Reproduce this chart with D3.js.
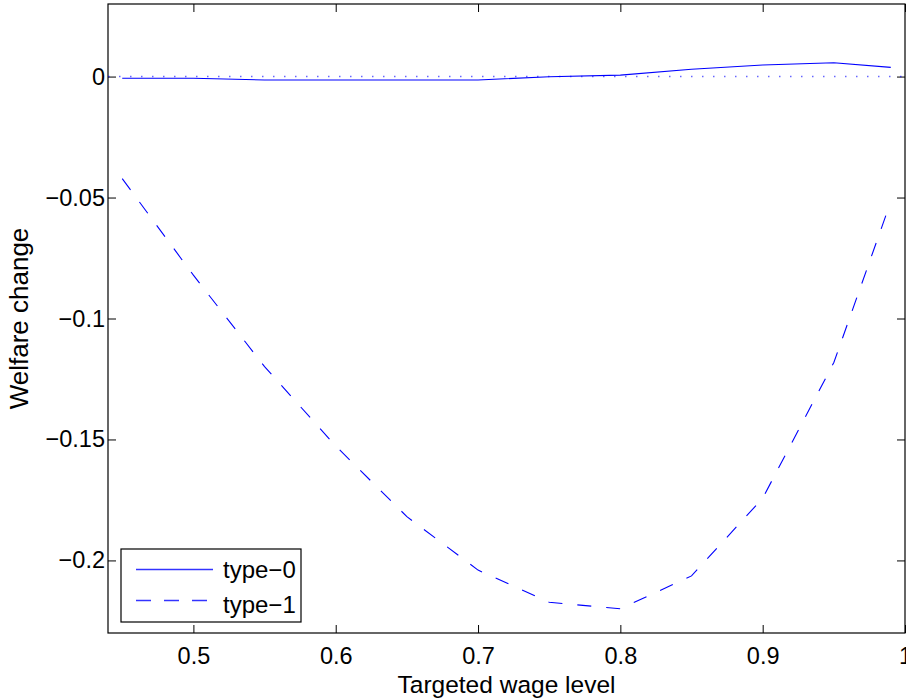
<!DOCTYPE html>
<html>
<head>
<meta charset="utf-8">
<script src="https://cdn.jsdelivr.net/npm/d3@7"></script>
<style>
  body { margin: 0; background: #fff; }
  text { font-family: "Liberation Sans", Arial, Helvetica, sans-serif; fill: #000; }
</style>
</head>
<body>
<div id="my_dataviz"></div>
<script>
// data
var wage = [0.45, 0.5, 0.55, 0.6, 0.65, 0.7, 0.75, 0.8, 0.85, 0.9, 0.95, 0.99];
var type0 = [-0.0007, -0.0007, -0.0014, -0.0014, -0.0014, -0.0014, -0.0001, 0.0006, 0.0030, 0.0048, 0.0057, 0.0038];
var type1 = [-0.0422, -0.0821, -0.1199, -0.1527, -0.1819, -0.2040, -0.2173, -0.2200, -0.2064, -0.1743, -0.1182, -0.0517];
var xTicks = [0.5, 0.6, 0.7, 0.8, 0.9, 1];
var yTicks = [-0.2, -0.15, -0.1, -0.05, 0];
var seriesNames = ["type\u22120", "type\u22121"];

// set the dimensions and margins of the graph
var margin = {top: 4, right: 1, bottom: 67, left: 108},
    width = 906 - margin.left - margin.right,
    height = 700 - margin.top - margin.bottom;

var svg = d3.select("#my_dataviz")
  .append("svg")
    .attr("width", width + margin.left + margin.right)
    .attr("height", height + margin.top + margin.bottom)
  .append("g")
    .attr("transform", "translate(" + margin.left + "," + margin.top + ")");

var x = d3.scaleLinear().domain([0.44, 1]).range([0, width]);
var y = d3.scaleLinear().domain([-0.23, 0.03]).range([height, 0]);
var fmt = d3.format("~g");

// axes, ticks pointing inward
var xAxis = svg.append("g")
  .attr("transform", "translate(0," + height + ")")
  .call(d3.axisBottom(x).tickValues(xTicks).tickFormat(fmt).tickSize(-8).tickSizeOuter(0).tickPadding(14));
var yAxis = svg.append("g")
  .call(d3.axisLeft(y).tickValues(yTicks).tickFormat(fmt).tickSize(-8).tickSizeOuter(0).tickPadding(3));
var xTop = svg.append("g")
  .call(d3.axisTop(x).tickValues(xTicks).tickFormat("").tickSize(-8).tickSizeOuter(0));
var yRight = svg.append("g")
  .attr("transform", "translate(" + width + ",0)")
  .call(d3.axisRight(y).tickValues(yTicks).tickFormat("").tickSize(-8).tickSizeOuter(0));

[xAxis, yAxis, xTop, yRight].forEach(function(a) {
  a.select(".domain").remove();
  a.selectAll(".tick line").attr("stroke", "#000");
  a.selectAll("text").style("font-size", "23.5px").attr("fill", "#000");
});

// box round the plot
svg.append("rect")
  .attr("x", 0).attr("y", 0)
  .attr("width", width).attr("height", height)
  .attr("fill", "none")
  .attr("stroke", "#000")
  .attr("stroke-width", 1.2);

// dotted zero line
svg.append("line")
  .attr("x1", x(0.44)).attr("x2", x(1))
  .attr("y1", y(0)).attr("y2", y(0))
  .attr("stroke", "#0000ff")
  .attr("stroke-opacity", 0.6)
  .attr("stroke-width", 1.5)
  .attr("stroke-dasharray", "1.5,9.5");

var line0 = d3.line()
  .x(function(d, i) { return x(wage[i]); })
  .y(function(d) { return y(d); });

svg.append("path")
  .datum(type0)
  .attr("d", line0)
  .attr("fill", "none")
  .attr("stroke", "#0000ff")
  .attr("stroke-width", 1.1);

svg.append("path")
  .datum(type1)
  .attr("d", line0)
  .attr("fill", "none")
  .attr("stroke", "#0000ff")
  .attr("stroke-width", 1.1)
  .attr("stroke-dasharray", "14,15");

// axis labels
svg.append("text")
  .attr("x", width / 2)
  .attr("y", height + 60)
  .attr("text-anchor", "middle")
  .style("font-size", "24.5px")
  .text("Targeted wage level");

svg.append("text")
  .attr("transform", "translate(" + (-80) + "," + (height / 2) + ") rotate(-90)")
  .attr("text-anchor", "middle")
  .style("font-size", "26px")
  .text("Welfare change");

// legend
var legend = svg.append("g")
  .attr("transform", "translate(" + (121 - margin.left) + "," + (549 - margin.top) + ")");
legend.append("rect")
  .attr("width", 180).attr("height", 73)
  .attr("fill", "#fff")
  .attr("stroke", "#000")
  .attr("stroke-width", 1.2);
legend.selectAll("line.key")
  .data(seriesNames)
  .enter()
  .append("line")
    .attr("class", "key")
    .attr("x1", 15).attr("x2", 92)
    .attr("y1", function(d, i) { return 20.5 + i * 31; })
    .attr("y2", function(d, i) { return 20.5 + i * 31; })
    .style("stroke", "#0000ff")
    .style("stroke-opacity", 0.8)
    .attr("stroke-width", 1.3)
    .attr("stroke-dasharray", function(d, i) { return i == 1 ? "15,13" : null; });
legend.selectAll("text")
  .data(seriesNames)
  .enter()
  .append("text")
    .attr("x", 102)
    .attr("y", function(d, i) { return 29 + i * 34.5; })
    .style("font-size", "24px")
    .text(function(d) { return d; });
</script>
</body>
</html>
